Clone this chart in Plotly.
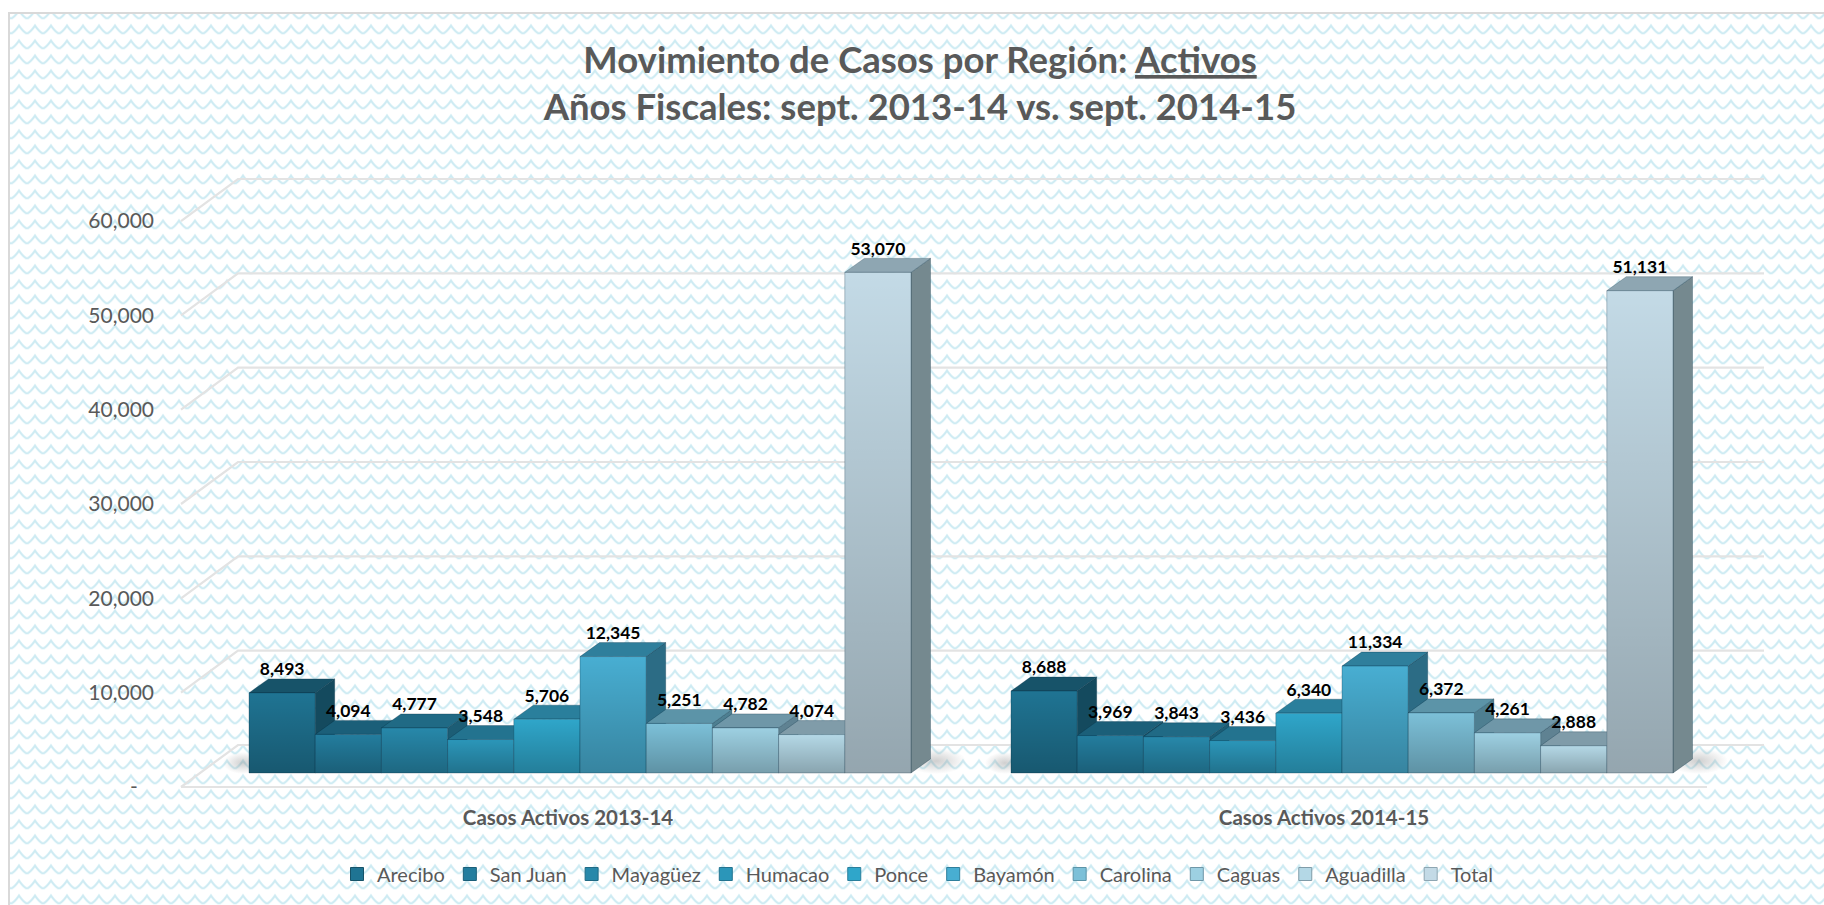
import base64
import plotly.graph_objects as go

# ---- data -------------------------------------------------------------
GROUPS = ["Casos Activos 2013-14", "Casos Activos 2014-15"]
SERIES = ["Arecibo", "San Juan", "Mayagüez", "Humacao", "Ponce",
          "Bayamón", "Carolina", "Caguas", "Aguadilla", "Total"]
CASOS_2013_14 = [8493, 4094, 4777, 3548, 5706, 12345, 5251, 4782, 4074, 53070]
CASOS_2014_15 = [8688, 3969, 3843, 3436, 6340, 11334, 6372, 4261, 2888, 51131]
Y_TICKS = [0, 10000, 20000, 30000, 40000, 50000, 60000]
Y_LABELS = ["-\u00a0\u00a0\u00a0", "10,000", "20,000", "30,000", "40,000", "50,000", "60,000"]

# ---- styles -----------------------------------------------------------
FRONT = ["#1f7493", "#237d9e", "#2788aa", "#2b96b9", "#2fa6ca",
         "#48aed2", "#7cc0d8", "#9dd0e2", "#b4d8e6", "#c3dae6"]
TOP = ["#175369", "#1b5f79", "#206a85", "#23738f", "#2a7f9c",
       "#2f7f9c", "#5c94a8", "#6f97a8", "#809ca9", "#8ea6b2"]
SIDE = ["#144a5e", "#175369", "#1c5d75", "#205f78", "#256c85",
        "#2c6c85", "#4e7f91", "#5f8292", "#6b8592", "#75898f"]
TXT = "#595959"
FONT = "Lato"

W, H = 1824, 905
L, R, T, B = 175, 24, 140, 110       # plot area margins
PLOT_W, PLOT_H = W - L - R, H - T - B
PX_PER_BAR = 66.2
PX_PER_UNIT = 0.009433
X_MAX = PLOT_W / PX_PER_BAR
Y_MIN = -(H - B - 787) / PX_PER_UNIT
Y_MAX = (787 - T) / PX_PER_UNIT

def dx(px):
    return px / PX_PER_BAR

def dy(px):
    return px / PX_PER_UNIT

GROUP_START = [dx(249 - L), dx(1011 - L)]
GROUP_LABEL_X = [dx(568 - L), dx(1324 - L)]
BASE = dy(14)
BAR_DX, BAR_DY = dx(19.5), dy(14)
FLOOR_DX, FLOOR_DY = dx(57), dy(42)
FLOOR_X0, FLOOR_X1 = dx(181 - L), dx(1707 - L)
BACK_X1 = dx(1764 - L)

def b64svg(svg):
    return "data:image/svg+xml;base64," + base64.b64encode(svg.encode()).decode()

BG = (f'<svg xmlns="http://www.w3.org/2000/svg" width="{W}" height="{H}">'
      '<defs><pattern id="p" width="16" height="15" patternUnits="userSpaceOnUse" '
      'patternTransform="translate(10,-4.7)">'
      '<path d="M-1,1 C2,5 5,10 8,10 C11,10 14,5 17,1" fill="none" stroke="#cdebf3" stroke-width="2.2"/>'
      '</pattern></defs>'
      f'<rect width="{W}" height="{H}" fill="#ffffff"/><rect width="{W}" height="{H}" fill="url(#p)"/></svg>')

GRAD = ('<svg xmlns="http://www.w3.org/2000/svg" width="10" height="100" viewBox="0 0 10 100" preserveAspectRatio="none">'
        '<defs><linearGradient id="g" x1="0" y1="0" x2="0" y2="1">'
        '<stop offset="0" stop-color="#000" stop-opacity="0"/>'
        '<stop offset="1" stop-color="#000" stop-opacity="0.24"/></linearGradient></defs>'
        '<rect width="10" height="100" fill="url(#g)"/></svg>')

SHADOW = ('<svg xmlns="http://www.w3.org/2000/svg" width="100" height="40" viewBox="0 0 100 40" preserveAspectRatio="none">'
          '<defs><radialGradient id="s"><stop offset="0" stop-color="#888" stop-opacity="0.4"/>'
          '<stop offset="1" stop-color="#888" stop-opacity="0"/></radialGradient></defs>'
          '<ellipse cx="50" cy="20" rx="50" ry="20" fill="url(#s)"/></svg>')

fig = go.Figure()

# gridlines: front-left corner, back-left corner, back-right corner
gx, gy = [], []
for v in Y_TICKS:
    gx += [FLOOR_X0, FLOOR_X0 + FLOOR_DX, BACK_X1, None]
    gy += [v, v + FLOOR_DY, v + FLOOR_DY, None]
gx += [FLOOR_X0, FLOOR_X1, None]
gy += [0, 0, None]
fig.add_trace(go.Scatter(x=gx, y=gy, mode="lines", showlegend=False, hoverinfo="skip",
                         line=dict(color="#e3e3e3", width=2.2)))

images = []
values_by_group = [CASOS_2013_14, CASOS_2014_15]

# floor shadows next to each cluster
for start in GROUP_START:
    images.append(dict(source=b64svg(SHADOW), xref="x", yref="y", x=start - dx(26), y=dy(787 - 752),
                       sizex=dx(40), sizey=dy(22), xanchor="left", yanchor="top",
                       sizing="stretch", layer="below"))
    images.append(dict(source=b64svg(SHADOW), xref="x", yref="y", x=start + 10 - dx(5), y=dy(787 - 748),
                       sizex=dx(60), sizey=dy(26), xanchor="left", yanchor="top",
                       sizing="stretch", layer="below"))

# painted left to right so neighbours hide what they should
for i, name in enumerate(SERIES):
    fx, fy, tx, ty, sx, sy = [], [], [], [], [], []
    for g, vals in enumerate(values_by_group):
        x0 = GROUP_START[g] + i
        x1 = x0 + 1
        v = vals[i] + BASE
        fx += [x0, x1, x1, x0, x0, None]
        fy += [BASE, BASE, v, v, BASE, None]
        tx += [x0, x1, x1 + BAR_DX, x0 + BAR_DX, x0, None]
        ty += [v, v, v + BAR_DY, v + BAR_DY, v, None]
        sx += [x1, x1 + BAR_DX, x1 + BAR_DX, x1, x1, None]
        sy += [BASE, BASE + BAR_DY, v + BAR_DY, v, BASE, None]
        images.append(dict(source=b64svg(GRAD), xref="x", yref="y", x=x0, y=v,
                           sizex=1, sizey=vals[i], xanchor="left", yanchor="top",
                           sizing="stretch", layer="above"))
    for xs, ys, col in ((sx, sy, SIDE[i]), (tx, ty, TOP[i]), (fx, fy, FRONT[i])):
        fig.add_trace(go.Scatter(x=xs, y=ys, mode="lines", fill="toself", fillcolor=col,
                                 line=dict(color="rgba(0,40,60,0.28)", width=1),
                                 showlegend=False, hoverinfo="skip"))

# data labels
lx, ly, lt = [], [], []
for g, vals in enumerate(values_by_group):
    for i, v in enumerate(vals):
        lx.append(GROUP_START[g] + i + 0.5)
        ly.append(v + BASE + BAR_DY + dy(8))
        lt.append(f"{v:,}")
fig.add_trace(go.Scatter(x=lx, y=ly, text=lt, mode="text", textposition="middle center",
                         textfont=dict(family=FONT, size=17.5, color="#000000", weight="bold"),
                         showlegend=False, hoverinfo="skip"))

# legend entries
for i, name in enumerate(SERIES):
    fig.add_trace(go.Scatter(x=[None], y=[None], mode="markers", name=name,
                             marker=dict(symbol="square", size=13, color=FRONT[i],
                                         line=dict(color=TOP[i], width=1))))

fig.add_shape(type="rect", xref="paper", yref="paper", layer="above",
              x0=(9 - L) / PLOT_W, x1=(W + 20 - L) / PLOT_W,
              y0=-(H + 20 - (H - B)) / PLOT_H, y1=1 + (T - 13) / PLOT_H,
              line=dict(color="#d9d9d9", width=2), fillcolor="rgba(0,0,0,0)")

images.append(dict(source=b64svg(BG), xref="paper", yref="paper",
                   x=(9 - L) / PLOT_W, y=1 + (T - 13) / PLOT_H,
                   sizex=W / PLOT_W, sizey=H / PLOT_H, xanchor="left", yanchor="top",
                   sizing="stretch", layer="below"))
images = [images[-1]] + images[:-1]

fig.update_layout(
    width=W, height=H,
    margin=dict(l=L, r=R, t=T, b=B, pad=0),
    paper_bgcolor="#ffffff", plot_bgcolor="rgba(0,0,0,0)",
    images=images,
    title=dict(text="<b>Movimiento de Casos por Región: <u>Activos</u><br>Años Fiscales: sept. 2013-14 vs. sept. 2014-15</b>",
               x=920 / W, xanchor="center", y=1 - 73 / H, yanchor="middle",
               font=dict(family=FONT, size=36.5, color=TXT)),
    xaxis=dict(range=[0, X_MAX], tickvals=GROUP_LABEL_X, ticktext=GROUPS, showgrid=False,
               zeroline=False, showline=False, ticks="", ticklabelstandoff=8,
               tickfont=dict(family=FONT, size=20.5, color=TXT, weight="bold")),
    yaxis=dict(range=[Y_MIN, Y_MAX], tickvals=Y_TICKS, ticktext=Y_LABELS, showgrid=False,
               zeroline=False, showline=False, ticks="", ticklabelstandoff=20,
               tickfont=dict(family=FONT, size=21, color=TXT)),
    legend=dict(orientation="h", x=(337 - L) / PLOT_W, xanchor="left",
                y=(H - B - 874) / PLOT_H, yanchor="middle", bgcolor="rgba(0,0,0,0)",
                font=dict(family=FONT, size=20, color=TXT), itemwidth=30),
    showlegend=True,
)

fig.write_html("out.html", config=dict(displayModeBar=False),
               post_script="document.body.style.margin='0';document.documentElement.style.overflow='hidden';")
